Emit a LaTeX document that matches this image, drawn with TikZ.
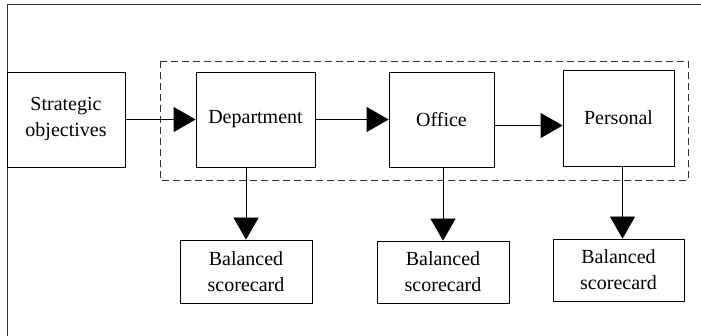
\documentclass[tikz,border=0pt]{standalone}
\usepackage{fontspec}
\setmainfont{Liberation Serif}
\usetikzlibrary{arrows.meta}

\tikzset{
    box/.style={draw, line width=0.8pt, align=center, inner sep=0pt,
        font=\fontsize{20}{26}\selectfont},
    arr/.style={line width=0.8pt, -{Triangle[length=22pt,width=25pt]}}
}

\begin{document}
\begin{tikzpicture}[x=1pt, y=-1pt]
            \useasboundingbox (0,0) rectangle (701,336);

            % Cornice esterna (solo lato sinistro e superiore)
            \draw[line width=1pt, black!80] (7,336) -- (7,5) -- (701,5);

            % Riquadro tratteggiato
            \draw[line width=0.8pt, dash pattern=on 7pt off 4pt, black!80] (160,61) rectangle (688,180);

            % Blocchi principali
            \node[box, minimum width=118pt, minimum height=95pt] (strat) at (66,119.5) {Strategic\\objectives};
            \node[box, minimum width=119pt, minimum height=95pt] (dept) at (255.5,119.5) {Department};
            \node[box, minimum width=105pt, minimum height=95pt] (office) at (441.5,119.5) {Office};
            \node[box, minimum width=111pt, minimum height=96pt] (personal) at (618.5,118) {Personal};

            % Schede di valutazione
            \node[box, minimum width=132pt, minimum height=63pt] (bsc1) at (246,271.5) {Balanced\\scorecard};
            \node[box, minimum width=132pt, minimum height=62pt] (bsc2) at (443,272) {Balanced\\scorecard};
            \node[box, minimum width=131pt, minimum height=62pt] (bsc3) at (618.5,270) {Balanced\\scorecard};

            % Frecce orizzontali
            \draw[arr] (strat) -- (dept);
            \draw[arr] (dept) -- (office);
            \draw[arr] ([yshift=-6pt]office.east) -- ([yshift=-6pt]office.east -| personal.west);

            % Frecce verticali
            \draw[arr] (bsc1 |- dept.south) -- (bsc1);
            \draw[arr] (bsc2 |- office.south) -- (bsc2);
            \draw[arr] ([xshift=4pt]personal.south) -- ([xshift=4pt]personal.south |- bsc3.north);
        \end{tikzpicture}
\end{document}
